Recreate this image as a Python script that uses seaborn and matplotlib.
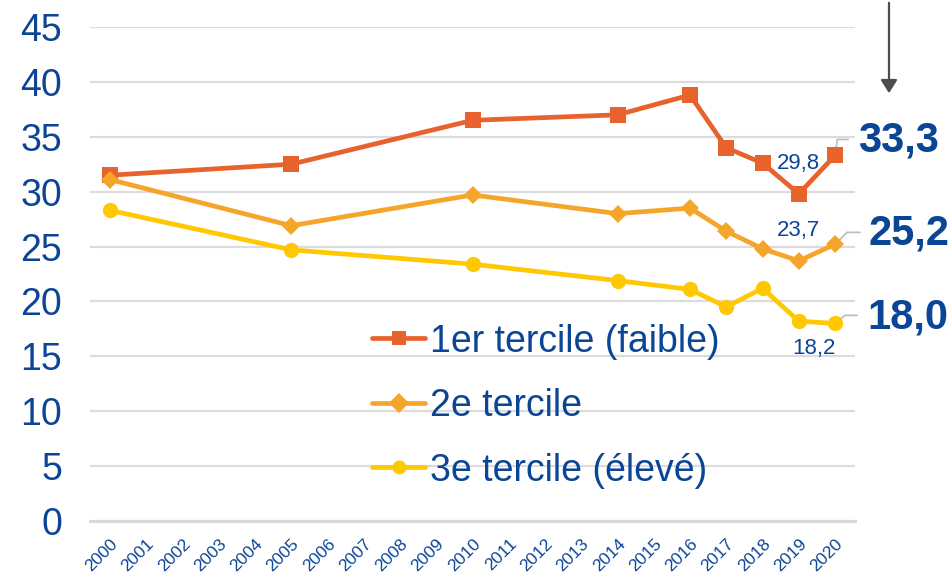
import matplotlib
matplotlib.use("Agg")
import matplotlib.pyplot as plt
import seaborn as sns
import pandas as pd

# ---- data ----
years = [2000, 2005, 2010, 2014, 2016, 2017, 2018, 2019, 2020]
tercile1 = [31.5, 32.5, 36.5, 37.0, 38.8, 34.0, 32.6, 29.8, 33.3]
tercile2 = [31.1, 26.9, 29.7, 28.0, 28.5, 26.4, 24.8, 23.7, 25.2]
tercile3 = [28.3, 24.7, 23.4, 21.9, 21.1, 19.5, 21.2, 18.2, 18.0]
series_names = ["1er tercile (faible)", "2e tercile", "3e tercile (élevé)"]
xtick_years = list(range(2000, 2021))
yticks = list(range(0, 50, 5))

# ---- style ----
sns.set_theme(style="white")
plt.rcParams["font.family"] = ["Liberation Sans", "DejaVu Sans"]
BLUE = "#0B4596"
colors = ["#E8622D", "#F5A62A", "#FFC800"]
markers = ["s", "D", "o"]
msizes = [11, 9, 11]

fig = plt.figure(figsize=(9.53, 5.74), dpi=100)
ax = fig.add_axes([90 / 953, 1 - 521 / 574, 765 / 953, 494 / 574])

values = [tercile1, tercile2, tercile3]
for name, vals, c, m, ms in zip(series_names, values, colors, markers, msizes):
    df = pd.DataFrame({"year": years, "value": vals})
    sns.lineplot(data=df, x="year", y="value", ax=ax, color=c, marker=m,
                 markersize=ms, markeredgewidth=0, linewidth=3.4, label=name,
                 clip_on=False, zorder=3)

ax.set_xlim(1999.45, 2020.55)
ax.set_ylim(0, 45)
ax.set_yticks(yticks)
ax.set_yticklabels([str(v) for v in yticks], fontsize=27, color=BLUE)
ax.set_xticks(xtick_years)
ax.set_xticklabels([str(y) for y in xtick_years], fontsize=12.5, color=BLUE,
                   rotation=45, ha="right", rotation_mode="anchor")
ax.tick_params(axis="both", length=0)
ax.tick_params(axis="y", pad=20)
ax.tick_params(axis="x", pad=11)
ax.set_xlabel("")
ax.set_ylabel("")
ax.yaxis.grid(True, color="#DCDCDC", linewidth=1.6)
ax.xaxis.grid(False)
ax.set_axisbelow(True)
for s in ["top", "right", "left"]:
    ax.spines[s].set_visible(False)
ax.spines["bottom"].set_color("#D9D9D9")
ax.spines["bottom"].set_linewidth(2.2)

# legend
leg = ax.legend(loc="upper left", bbox_to_anchor=(0.3495, 0.43), frameon=False,
                fontsize=27, handlelength=1.4, handletextpad=0.15,
                labelspacing=0.76, borderaxespad=0)
for t in leg.get_texts():
    t.set_color(BLUE)
for h in leg.legend_handles:
    h.set_markersize(10)

# small data labels
def fr(v):
    return f"{v:.1f}".replace(".", ",")

ax.annotate(fr(tercile1[-2]), xy=(years[-2], tercile1[-2]),
            xytext=(0, 22), textcoords="offset points", ha="center", va="center",
            fontsize=16, color=BLUE)
ax.annotate(fr(tercile2[-2]), xy=(years[-2], tercile2[-2]),
            xytext=(0, 22), textcoords="offset points", ha="center", va="center",
            fontsize=16, color=BLUE)
ax.annotate(fr(tercile3[-2]), xy=(years[-2], tercile3[-2]),
            xytext=(11, -20), textcoords="offset points", ha="center", va="center",
            fontsize=16, color=BLUE)

# end labels with leader lines: (leader end offset, leader angle at point, text offset)
leaders = [(tercile1, (9.4, 11.5), 82, (16.5, 10.5)),
           (tercile2, (18, 8.6), 45, (24, 8)),
           (tercile3, (15.8, 5.8), 39, (23, 4.3))]
for vals, (ex, ey), ang, (tx, ty) in leaders:
    ax.annotate("", xy=(years[-1], vals[-1]), xytext=(ex, ey),
                textcoords="offset points",
                arrowprops=dict(arrowstyle="-", color="#BFBFBF", lw=1.3,
                                shrinkA=0, shrinkB=0,
                                connectionstyle=f"angle,angleA=0,angleB={ang},rad=0"),
                annotation_clip=False, zorder=2)
    ax.annotate(fr(vals[-1]), xy=(years[-1], vals[-1]),
                xytext=(tx, ty), textcoords="offset points", ha="left", va="center",
                fontsize=30, fontweight="bold", color=BLUE, annotation_clip=False)

# arrow at top right
fig.add_artist(matplotlib.patches.FancyArrowPatch(
    (889 / 953, 1.0), (889 / 953, 1 - 96 / 574), transform=fig.transFigure,
    arrowstyle="-|>,head_length=8,head_width=5", color="#4D4D4D", lw=1.6))

fig.savefig("out.png", dpi=100)
